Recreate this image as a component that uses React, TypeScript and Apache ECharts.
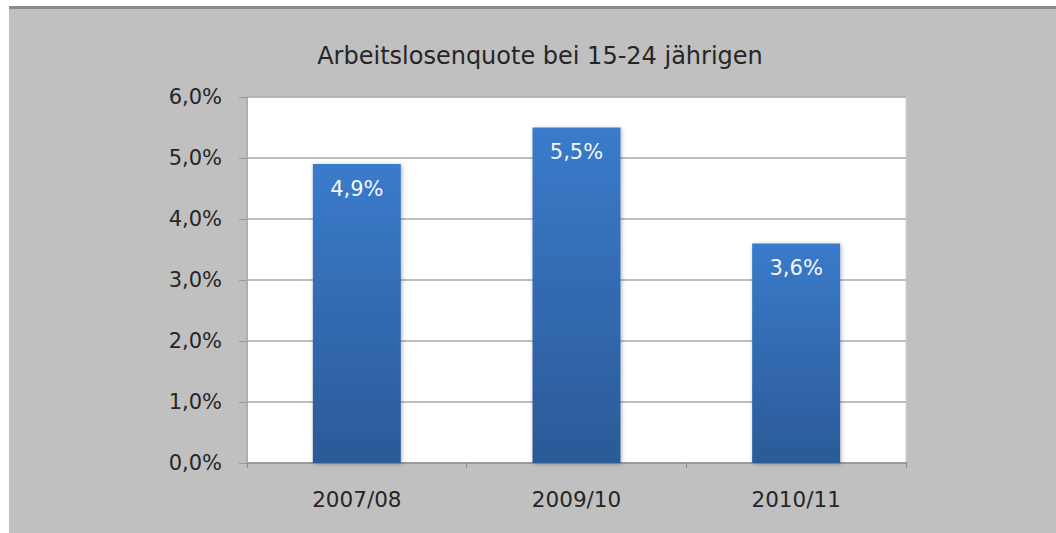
import React, { useEffect, useRef } from "react";
import * as echarts from "echarts";

const categories = ["2007/08", "2009/10", "2010/11"];
const values = [4.9, 5.5, 3.6];
const titleText = "Arbeitslosenquote bei 15-24 jährigen";

const fmt = (v: number) => v.toFixed(1).replace(".", ",") + "%";
const FONT = "'DejaVu Sans', Verdana, sans-serif";

export default function App() {
  const ref = useRef<HTMLDivElement>(null);
  useEffect(() => {
    if (!ref.current) return;
    const chart = echarts.init(ref.current, null, { renderer: "svg" });
    chart.setOption({
      animation: false,
      backgroundColor: "#ffffff",
      title: {
        text: titleText,
        left: 535,
        textAlign: "center",
        top: 39,
        textStyle: {
          fontFamily: FONT,
          fontSize: 24,
          fontWeight: "normal",
          color: "#262626",
        },
      },
      graphic: [
        {
          type: "rect",
          z: -10,
          shape: { x: 9, y: 6, width: 1047, height: 527 },
          style: { fill: "#c0c0c0" },
          silent: true,
        },
        {
          type: "rect",
          z: -9,
          shape: { x: 9, y: 6, width: 1047, height: 3 },
          style: { fill: "#8a8a8a" },
          silent: true,
        },
      ],
      grid: {
        left: 247,
        right: 150,
        top: 97,
        bottom: 70,
        show: true,
        backgroundColor: "#ffffff",
        borderColor: "#d0d0d0",
        borderWidth: 1,
      },
      xAxis: {
        type: "category",
        data: categories,
        axisLine: { show: true, lineStyle: { color: "#9a9a9a", width: 2 } },
        axisTick: { show: true, length: 5, lineStyle: { color: "#8a8a8a" } },
        axisLabel: {
          margin: 25,
          fontFamily: FONT,
          fontSize: 21.5,
          color: "#262626",
        },
      },
      yAxis: {
        type: "value",
        min: 0,
        max: 6,
        interval: 1,
        axisLine: { show: true, lineStyle: { color: "#b0b0b0", width: 2 } },
        axisTick: { show: true, length: 8, lineStyle: { color: "#9a9a9a" } },
        splitLine: { show: true, lineStyle: { color: "#a8a8a8", width: 1.5 } },
        axisLabel: {
          margin: 25,
          formatter: (v: number) => fmt(v),
          fontFamily: FONT,
          fontSize: 21,
          color: "#262626",
        },
      },
      series: [
        {
          type: "bar",
          data: values,
          barWidth: 88,
          itemStyle: {
            color: new echarts.graphic.LinearGradient(0, 0, 0, 1, [
              { offset: 0, color: "#3a7bcb" },
              { offset: 1, color: "#2b5a97" },
            ]),
            shadowColor: "rgba(0,0,0,0.3)",
            shadowBlur: 4,
            shadowOffsetX: 1,
            shadowOffsetY: 1,
          },
          label: {
            show: true,
            position: "insideTop",
            distance: 14,
            formatter: (p: any) => fmt(p.value),
            fontFamily: FONT,
            fontSize: 21,
            color: "#f4f7fb",
          },
        },
      ],
    });
    return () => chart.dispose();
  }, []);
  return (
    <div
      ref={ref}
      style={{ position: "fixed", left: 0, top: 0, width: 1056, height: 533 }}
    />
  );
}
